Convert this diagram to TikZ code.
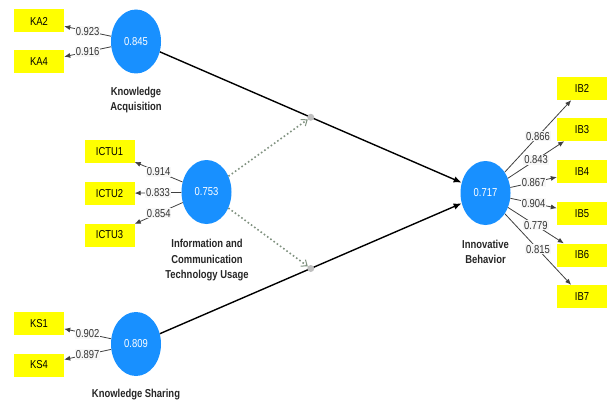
\documentclass[tikz,border=0pt]{standalone}
\usepackage{fontspec}
\setmainfont{Liberation Sans}
\newfontfamily\narrowfont[FakeStretch=0.82]{Liberation Sans}
\usetikzlibrary{arrows.meta,shapes.geometric,calc}
\definecolor{lvblue}{RGB}{24,144,255}
\definecolor{indyellow}{RGB}{255,255,0}
\definecolor{dotgray}{RGB}{128,146,128}
\begin{document}
\begin{tikzpicture}[x=1pt,y=-1pt,
  latent/.style={ellipse, fill=lvblue, minimum width=50pt, minimum height=64pt, inner sep=0pt, text=white, font=\narrowfont\fontsize{11.5}{13}\selectfont},
  indic/.style={rectangle, fill=indyellow, minimum width=50pt, minimum height=23pt, inner sep=0pt, font=\narrowfont\fontsize{11.5}{13}\selectfont},
  lvname/.style={font=\narrowfont\bfseries\fontsize{11.5}{15.5}\selectfont, align=center, text=black!85},
  loading/.style={-{Latex[length=6pt,width=5pt]}, draw=black!75, line width=0.8pt},
  wlabel/.style={fill=gray!6, inner sep=1pt, font=\narrowfont\fontsize{11.5}{12}\selectfont, text=black!80},
  structpath/.style={-{Latex[length=8pt,width=6.5pt]}, line width=1.4pt, draw=black},
  moderate/.style={draw=dotgray, line width=1.6pt, dash pattern=on 1.6pt off 2.4pt, -{Straight Barb[length=5pt,width=8pt,line width=1pt]}},
  moddot/.style={circle, fill=gray!50, minimum size=7pt, inner sep=0pt}
]
\useasboundingbox (0,0) rectangle (609,401);

% latent variables
\node[latent] (KA) at (136,41.5) {0.845};
\node[latent] (ICTU) at (206.5,192) {0.753};
\node[latent] (KS) at (136,344) {0.809};
\node[latent] (IB) at (485.5,193) {0.717};

% names
\node[lvname] (KAname) at (136,100) {Knowledge\\Acquisition};
\node[lvname] (ICTUname) at (207,260.5) {Information and\\Communication\\Technology Usage};
\node[lvname] (IBname) at (485.5,252) {Innovative\\Behavior};
\node[lvname] (KSname) at (136,395) {Knowledge Sharing};

% indicators
\node[indic] (KA2) at (39,21) {KA2};
\node[indic] (KA4) at (39,62) {KA4};
\node[indic] (ICTU1) at (109.5,151.5) {ICTU1};
\node[indic] (ICTU2) at (109.5,193.5) {ICTU2};
\node[indic] (ICTU3) at (109.5,235) {ICTU3};
\node[indic] (KS1) at (39,323.5) {KS1};
\node[indic] (KS4) at (39,365) {KS4};
\node[indic] (IB2) at (582,88.5) {IB2};
\node[indic] (IB3) at (582,129.5) {IB3};
\node[indic] (IB4) at (582,171.5) {IB4};
\node[indic] (IB5) at (582,213.5) {IB5};
\node[indic] (IB6) at (582,255) {IB6};
\node[indic] (IB7) at (582,296.5) {IB7};

% loadings
\draw[loading] (KA) -- (KA2) node[wlabel,pos=0.5] {0.923};
\draw[loading] (KA) -- (KA4) node[wlabel,pos=0.5] {0.916};
\draw[loading] (ICTU) -- (ICTU1) node[wlabel,pos=0.5] {0.914};
\draw[loading] (ICTU) -- (ICTU2) node[wlabel,pos=0.5] {0.833};
\draw[loading] (ICTU) -- (ICTU3) node[wlabel,pos=0.5] {0.854};
\draw[loading] (KS) -- (KS1) node[wlabel,pos=0.5] {0.902};
\draw[loading] (KS) -- (KS4) node[wlabel,pos=0.5] {0.897};
\draw[loading] (IB) -- (IB2) node[wlabel,pos=0.5] {0.866};
\draw[loading] (IB) -- (IB3) node[wlabel,pos=0.5] {0.843};
\draw[loading] (IB) -- (IB4) node[wlabel,pos=0.5] {0.867};
\draw[loading] (IB) -- (IB5) node[wlabel,pos=0.5] {0.904};
\draw[loading] (IB) -- (IB6) node[wlabel,pos=0.5] {0.779};
\draw[loading] (IB) -- (IB7) node[wlabel,pos=0.5] {0.815};

% structural paths
\draw[structpath] (KA) -- (IB);
\draw[structpath] (KS) -- (IB);
\node[moddot] (M1) at ($(KA.center)!0.5!(IB.center)$) {};
\node[moddot] (M2) at ($(KS.center)!0.5!(IB.center)$) {};
\draw[moderate] (ICTU) -- (M1);
\draw[moderate] (ICTU) -- (M2);
\end{tikzpicture}
\end{document}
